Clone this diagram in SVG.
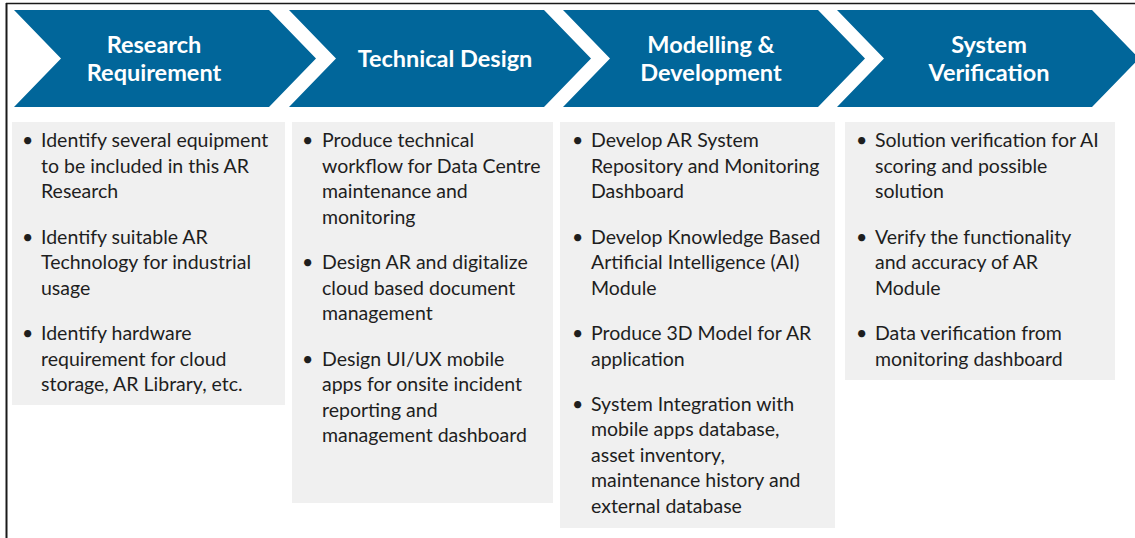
<svg xmlns="http://www.w3.org/2000/svg" width="1135" height="538" viewBox="0 0 1135 538">
<style>
.chev{fill:#01669A}
.head{font-family:Lato,"Liberation Sans",sans-serif;font-weight:bold;font-size:23.5px;fill:#ffffff;text-anchor:middle}
.box{fill:#F0F0F0}
.body{font-family:Lato,"Liberation Sans",sans-serif;font-size:19.5px;fill:#1e1e1e}
.frame{stroke:#1a1a1a;fill:none}
</style>
<defs>
<path id="chevron" d="M0,10 L255,10 L302,58.5 L255,107 L0,107 L47,58.5 Z"/>
</defs>
<rect width="1135" height="538" fill="#ffffff"/>
<g id="frame">
<line class="frame" x1="6.5" y1="3" x2="6.5" y2="538" stroke-width="2"/>
<line class="frame" x1="6" y1="3.5" x2="1135" y2="3.5" stroke-width="1.5"/>
</g>
<g id="connectors"></g>
<g id="step1">
<use href="#chevron" class="chev" x="14"/>
<text class="head"><tspan x="154" y="53">Research</tspan><tspan x="154" y="81">Requirement</tspan></text>
<rect class="box" x="12" y="122" width="273" height="283"/>
<text class="body">
<tspan x="22" y="147">•</tspan><tspan x="41" y="147">Identify several equipment</tspan>
<tspan x="41" y="172.5">to be included in this AR</tspan>
<tspan x="41" y="198">Research</tspan>
<tspan x="22" y="243.5">•</tspan><tspan x="41" y="243.5">Identify suitable AR</tspan>
<tspan x="41" y="269">Technology for industrial</tspan>
<tspan x="41" y="294.5">usage</tspan>
<tspan x="22" y="340">•</tspan><tspan x="41" y="340">Identify hardware</tspan>
<tspan x="41" y="365.5">requirement for cloud</tspan>
<tspan x="41" y="391">storage, AR Library, etc.</tspan>
</text>
</g>
<g id="step2">
<use href="#chevron" class="chev" x="289"/>
<text class="head"><tspan x="445" y="67">Technical Design</tspan></text>
<rect class="box" x="292" y="122" width="261" height="381"/>
<text class="body">
<tspan x="302" y="147">•</tspan><tspan x="322" y="147">Produce technical</tspan>
<tspan x="322" y="172.5">workflow for Data Centre</tspan>
<tspan x="322" y="198">maintenance and</tspan>
<tspan x="322" y="223.5">monitoring</tspan>
<tspan x="302" y="269">•</tspan><tspan x="322" y="269">Design AR and digitalize</tspan>
<tspan x="322" y="294.5">cloud based document</tspan>
<tspan x="322" y="320">management</tspan>
<tspan x="302" y="365.5">•</tspan><tspan x="322" y="365.5">Design UI/UX mobile</tspan>
<tspan x="322" y="391">apps for onsite incident</tspan>
<tspan x="322" y="416.5">reporting and</tspan>
<tspan x="322" y="442">management dashboard</tspan>
</text>
</g>
<g id="step3">
<use href="#chevron" class="chev" x="563"/>
<text class="head"><tspan x="711" y="53">Modelling &amp;</tspan><tspan x="711" y="81">Development</tspan></text>
<rect class="box" x="560" y="122" width="275" height="406"/>
<text class="body">
<tspan x="572" y="147">•</tspan><tspan x="591" y="147">Develop AR System</tspan>
<tspan x="591" y="172.5">Repository and Monitoring</tspan>
<tspan x="591" y="198">Dashboard</tspan>
<tspan x="572" y="243.5">•</tspan><tspan x="591" y="243.5">Develop Knowledge Based</tspan>
<tspan x="591" y="269">Artificial Intelligence (AI)</tspan>
<tspan x="591" y="294.5">Module</tspan>
<tspan x="572" y="340">•</tspan><tspan x="591" y="340">Produce 3D Model for AR</tspan>
<tspan x="591" y="365.5">application</tspan>
<tspan x="572" y="410.5">•</tspan><tspan x="591" y="410.5">System Integration with</tspan>
<tspan x="591" y="436">mobile apps database,</tspan>
<tspan x="591" y="461.5">asset inventory,</tspan>
<tspan x="591" y="487">maintenance history and</tspan>
<tspan x="591" y="512.5">external database</tspan>
</text>
</g>
<g id="step4">
<use href="#chevron" class="chev" x="837"/>
<text class="head"><tspan x="989" y="53">System</tspan><tspan x="989" y="81">Verification</tspan></text>
<rect class="box" x="845" y="122" width="270" height="258"/>
<text class="body">
<tspan x="856" y="147">•</tspan><tspan x="875" y="147">Solution verification for AI</tspan>
<tspan x="875" y="172.5">scoring and possible</tspan>
<tspan x="875" y="198">solution</tspan>
<tspan x="856" y="243.5">•</tspan><tspan x="875" y="243.5">Verify the functionality</tspan>
<tspan x="875" y="269">and accuracy of AR</tspan>
<tspan x="875" y="294.5">Module</tspan>
<tspan x="856" y="340">•</tspan><tspan x="875" y="340">Data verification from</tspan>
<tspan x="875" y="365.5">monitoring dashboard</tspan>
</text>
</g>
</svg>
